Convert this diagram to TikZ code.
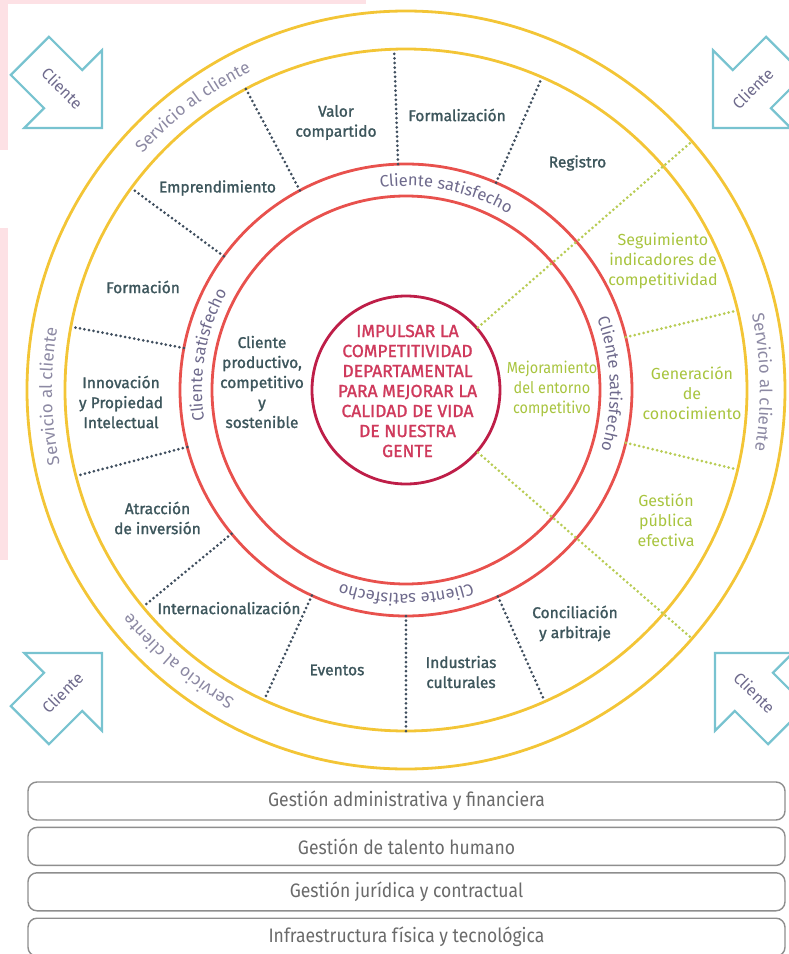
\documentclass[tikz,border=0pt]{standalone}
\usepackage{fontspec}
\setmainfont{Fira Sans}
\newfontfamily\labfont{Fira Sans}[FakeBold=1.4]
\newfontfamily\litefont{Fira Sans}
\newfontfamily\narrowfont{Fira Sans}[FakeStretch=0.9]
\newcommand\satisfont{\litefont\fontsize{16.5}{18}\selectfont}
\newcommand\servfont{\litefont\fontsize{17}{18}\selectfont}
\usetikzlibrary{positioning,decorations.text}
\definecolor{gold}{HTML}{F3C536}
\definecolor{coral}{HTML}{E8514D}
\definecolor{crimson}{HTML}{BE1E48}
\definecolor{goaltxt}{HTML}{CF3A5C}
\definecolor{slate}{HTML}{3D565C}
\definecolor{dots}{HTML}{3F4E5E}
\definecolor{limetxt}{HTML}{A8C43E}
\definecolor{limedots}{HTML}{B8CC55}
\definecolor{satis}{HTML}{6E6A8C}
\definecolor{serv}{HTML}{8C89A3}
\definecolor{arrowc}{HTML}{78C3D0}
\definecolor{pinkbg}{HTML}{FDE1E5}
\definecolor{boxline}{HTML}{8E8E8E}
\definecolor{boxtxt}{HTML}{6A6A6A}
\tikzset{
  ring/.style={draw=gold, line width=2.8pt},
  redring/.style={draw=coral, line width=2.8pt},
  spoke/.style={draw=dots, line width=3pt, line cap=round, dash pattern=on 0pt off 4.6pt},
  gspoke/.style={spoke, draw=limedots},
  lbl/.style={align=center, text=slate, font=\labfont\fontsize{15.5}{20}\selectfont},
  glbl/.style={lbl, text=limetxt, font=\normalfont\fontsize{16}{20}\selectfont},
  goalc/.style={circle, draw=crimson, line width=2.8pt, minimum size=188pt, inner sep=0pt},
  goaltext/.style={align=center, text=goaltxt, font=\labfont\fontsize{17.5}{20}\selectfont},
  cliarr/.style={draw=arrowc, line width=2.2pt, line join=miter},
  clitxt/.style={text=satis, font=\litefont\fontsize{16}{18}\selectfont},
  supbox/.style={draw=boxline, line width=1.4pt, rounded corners=9pt, minimum width=757pt, minimum height=38pt, text=boxtxt, font=\narrowfont\fontsize{19.5}{22}\selectfont},
  satisring/.style={decorate, decoration={text along path, text align=center, text color=satis, text={|\satisfont|Cliente satisfecho}}},
  servring/.style={decorate, decoration={text along path, text align=center, text color=serv, text={|\servfont|Servicio al cliente}}}}

\begin{document}
\begin{tikzpicture}[x=1pt, y=1pt]
\useasboundingbox (-406,-564) rectangle (382,390);
\fill[pinkbg] (-406,390) rectangle (-398,240);
\fill[pinkbg] (-406,162) rectangle (-398,-170);
\fill[pinkbg] (-406,390) rectangle (-40,386);
\draw[ring] (0,0) circle[radius=379];
\draw[ring] (0,0) circle[radius=341];
\draw[redring] (0,0) circle[radius=226];
\draw[redring] (0,0) circle[radius=194];
\node[goalc] (goal) at (0,0) {};
\node[goaltext] (gtxt) at (1.5,-1) {IMPULSAR LA\\COMPETITIVIDAD\\DEPARTAMENTAL\\PARA MEJORAR LA\\CALIDAD DE VIDA\\DE NUESTRA\\GENTE};
\foreach \a in {66.5,92,118,143.7,169.3,194.6,219.5,245.4,270,294}
  \draw[spoke] (\a:226) -- (\a:341);
\foreach \a in {13.5,-13.5}
  \draw[gspoke] (\a:226) -- (\a:341);
\draw[gspoke] (goal.41) -- (41:380);
\draw[gspoke] (goal.-41) -- (-41:380);
\foreach \a in {78.5,1.7,270,170}
  \path[satisring] ({\a+35}:204) arc[start angle=\a+35, end angle=\a-35, radius=204];
\foreach \a in {127,1.3,181,230}
  \path[servring] ({\a+25}:354) arc[start angle=\a+25, end angle=\a-25, radius=354];
\node[lbl] (valor) at (-70,267.5) {Valor\\compartido};
\node[lbl] (formal) at (51,275) {Formalización};
\node[lbl] (registro) at (171.5,227) {Registro};
\node[lbl] (empr) at (-188.5,202) {Emprendimiento};
\node[lbl] (formacion) at (-263,103) {Formación};
\node[lbl] (innov) at (-285,-12) {Innovación\\y Propiedad\\Intelectual};
\node[lbl] (atrac) at (-248.5,-128) {Atracción\\de inversión};
\node[lbl] (inter) at (-177,-218) {Internacionalización};
\node[lbl] (eventos) at (-69,-280) {Eventos};
\node[lbl] (indus) at (55,-282) {Industrias\\culturales};
\node[lbl] (concil) at (169,-233.5) {Conciliación\\y arbitraje};
\node[lbl] (clprod) at (-144,8) {Cliente\\productivo,\\competitivo\\y\\sostenible};
\node[glbl] (segui) at (257,129) {Seguimiento\\indicadores de\\competitividad};
\node[glbl] (gener) at (286,-3) {Generación\\de\\conocimiento};
\node[glbl] (gestion) at (260,-130) {Gestión\\pública\\efectiva};
\node[glbl, font=\narrowfont\fontsize{16}{20}\selectfont] (mejora) at (146,1) {Mejoramiento\\del entorno\\competitivo};
\foreach \x/\y/\d/\t [count=\i] in {-304/262/-45/-45, 307/262/225/45, -304/-263/45/45, 309/-263/135/-45} {
  \begin{scope}[shift={(\x,\y)}, rotate=\d]
    \draw[cliarr] (0,0) -- (-55,55) -- (-55,27) -- (-102,27) -- (-102,-27) -- (-55,-27) -- (-55,-55) -- cycle;
    \node[clitxt, rotate=\t] (cli\i) at (-56,0) {Cliente};
  \end{scope}
}
\node[supbox] (adm) at (0.5,-411) {Gestión administrativa y financiera};
\node[supbox, below=6pt of adm] (tal) {Gestión de talento humano};
\node[supbox, below=6pt of tal] (jur) {Gestión jurídica y contractual};
\node[supbox, below=6pt of jur] (infra) {Infraestructura física y tecnológica};
\end{tikzpicture}
\end{document}
